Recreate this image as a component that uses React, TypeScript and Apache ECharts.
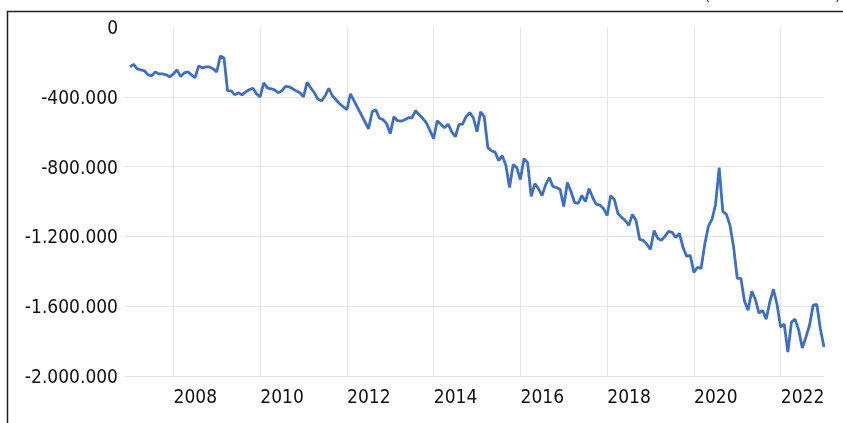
import React, { useEffect, useRef } from 'react';
import * as echarts from 'echarts';

// Monthly values, Jan 2007 .. Jan 2023
const START_YEAR = 2007;
const values: number[] = [
  -229000, -214000, -240000, -246000, -251000, -274000, -280000, -257000, -269000, -269000, -274000, -286000,
  -269000, -246000, -283000, -263000, -257000, -274000, -291000, -223000, -234000, -229000, -229000, -240000,
  -257000, -166000, -177000, -366000, -366000, -389000, -377000, -389000, -371000, -360000, -351000, -383000,
  -400000, -320000, -349000, -354000, -360000, -377000, -366000, -340000, -343000, -354000, -366000, -377000,
  -400000, -317000, -349000, -377000, -414000, -423000, -394000, -351000, -394000, -417000, -440000, -457000,
  -474000, -383000, -423000, -463000, -503000, -543000, -583000, -486000, -474000, -523000, -531000, -554000,
  -611000, -514000, -537000, -540000, -531000, -520000, -520000, -480000, -503000, -523000, -549000, -594000,
  -640000, -537000, -557000, -577000, -557000, -600000, -629000, -560000, -557000, -514000, -491000, -520000,
  -600000, -486000, -514000, -691000, -709000, -717000, -766000, -737000, -794000, -920000, -789000, -806000,
  -874000, -754000, -777000, -971000, -897000, -926000, -966000, -903000, -863000, -914000, -920000, -931000,
  -1029000, -891000, -943000, -1006000, -1011000, -966000, -1000000, -926000, -977000, -1017000, -1020000, -1040000,
  -1080000, -966000, -989000, -1069000, -1091000, -1109000, -1137000, -1074000, -1109000, -1217000, -1223000, -1246000,
  -1274000, -1166000, -1211000, -1223000, -1200000, -1171000, -1177000, -1206000, -1183000, -1263000, -1314000, -1309000,
  -1406000, -1377000, -1383000, -1246000, -1143000, -1103000, -1017000, -806000, -1057000, -1074000, -1137000, -1263000,
  -1440000, -1440000, -1571000, -1623000, -1514000, -1560000, -1640000, -1623000, -1674000, -1577000, -1503000, -1589000,
  -1720000, -1703000, -1863000, -1691000, -1674000, -1737000, -1840000, -1777000, -1709000, -1594000, -1589000, -1731000,
  -1834000,
];
const yearTicks = [2008, 2010, 2012, 2014, 2016, 2018, 2020, 2022];

const FONT = "'Liberation Sans Narrow', 'DejaVu Sans Condensed', 'Liberation Sans', sans-serif";

function fmt(v: number): string {
  if (v === 0) return '0';
  const s = Math.abs(v).toString().replace(/\B(?=(\d{3})+(?!\d))/g, '.');
  return (v < 0 ? '-' : '') + s;
}

export default function App() {
  const ref = useRef<HTMLDivElement>(null);
  useEffect(() => {
    const chart = echarts.init(ref.current!, null, { renderer: 'svg' });
    const data = values.map((v, i) => [START_YEAR + i / 12, v]);
    chart.setOption({
      animation: false,
      textStyle: { fontFamily: FONT },
      grid: { left: 125, right: 19, top: 27, bottom: 47 },
      xAxis: {
        type: 'value',
        min: 2006.885,
        max: 2023,
        axisLine: { show: false },
        axisTick: { show: false, customValues: yearTicks },
        axisLabel: {
          customValues: yearTicks,
          margin: 10,
          formatter: (v: number) => `{y|${Math.round(v)}}`,
          rich: { y: { fontSize: 19, color: '#111', fontFamily: FONT, padding: [0, 0, 0, 44] } },
        },
        splitLine: { show: true, lineStyle: { color: '#e4e4e4', width: 1 } },
      },
      yAxis: {
        type: 'value',
        min: -2000000,
        max: 0,
        interval: 400000,
        axisLine: { show: false },
        axisTick: { show: false },
        axisLabel: { margin: 7, fontSize: 19, color: '#111', fontFamily: FONT, formatter: fmt },
        splitLine: { show: true, showMaxLine: false, lineStyle: { color: '#e4e4e4', width: 1 } },
      },
      series: [
        {
          type: 'line',
          data,
          symbol: 'none',
          showSymbol: false,
          lineStyle: { color: '#3f6fbe', width: 2.8 },
        },
      ],
      graphic: [
        {
          type: 'rect',
          shape: { x: 7.5, y: 11.5, width: 900, height: 500 },
          style: { fill: 'none', stroke: '#222', lineWidth: 1.5 },
          silent: true,
        },
        {
          type: 'text',
          x: 704,
          y: -16,
          style: { text: '(', fontSize: 18, fill: '#444', fontFamily: FONT },
        },
        {
          type: 'text',
          x: 835,
          y: -16,
          style: { text: ')', fontSize: 18, fill: '#444', fontFamily: FONT },
        },
      ],
    });
    return () => chart.dispose();
  }, []);
  return <div ref={ref} style={{ position: 'fixed', left: 0, top: 0, width: 843, height: 423 }} />;
}
